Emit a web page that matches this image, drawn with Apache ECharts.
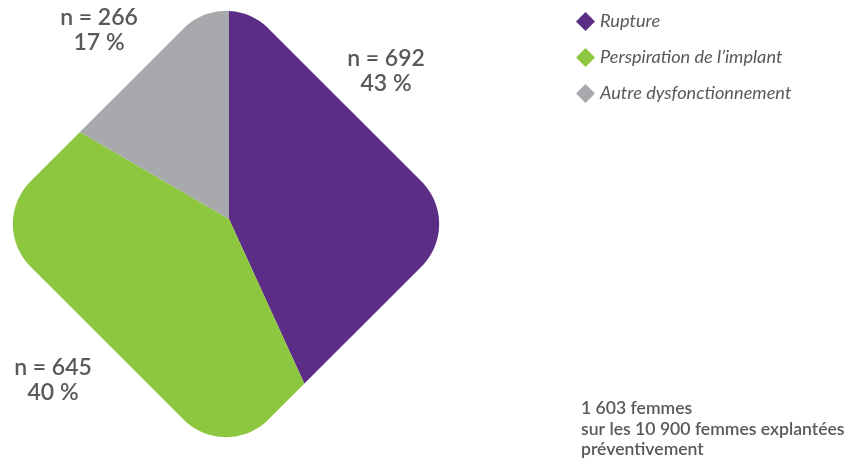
<!DOCTYPE html>
<html>
<head>
<meta charset="utf-8">
<script src="https://cdn.jsdelivr.net/npm/echarts@6/dist/echarts.min.js"></script>
<style>
  html, body { margin: 0; padding: 0; background: #fff; }
  #chart { width: 850px; height: 464px; }
</style>
</head>
<body>
<div id="chart"></div>
<script>
  // données
  const categories = ['Rupture', 'Perspiration de l’implant', 'Autre dysfonctionnement']
  const counts = [692, 645, 266]
  const colors = ['#5B2D87', '#8DC63F', '#A7A9AC']
  const noteLines = ['1 603 femmes', 'sur les 10 900 femmes explantées', 'préventivement']

  // positions des étiquettes (px)
  const labelPos = [[386, 71], [53, 380], [99, 30]]
  const textColor = '#58595B'
  const total = counts.reduce((a, b) => a + b, 0)

  // masque blanc autour d'un carré arrondi posé sur la pointe
  // (un seul anneau avec un pont pour laisser le trou)
  function diamondMask(cx, cy, d, r) {
    const off = d - r * Math.SQRT2
    const corners = [
      [cx - off, cy, 180, 225],
      [cx, cy + off, 225, 315],
      [cx + off, cy, 315, 405],
      [cx, cy - off, 45, 135],
      [cx - off, cy, 135, 180],
    ]
    const pts = [[0, cy], [0, 0], [540, 0], [540, 464], [0, 464], [0, cy]]
    corners.forEach(([ox, oy, a0, a1]) => {
      for (let a = a0; a <= a1; a += 3) {
        const t = a * Math.PI / 180
        pts.push([ox + r * Math.cos(t), oy - r * Math.sin(t)])
      }
    })
    pts.push([0, cy])
    return pts
  }

  const chart = echarts.init(document.getElementById('chart'))

  const labels = counts.map((c, i) => ({
    type: 'text',
    x: labelPos[i][0],
    y: labelPos[i][1],
    z: 10,
    silent: true,
    style: {
      text: `n = ${c}\n${Math.round(c / total * 100)} %`,
      fill: textColor,
      fontFamily: 'Lato',
      fontWeight: 600,
      fontSize: 23,
      lineHeight: 25,
      align: 'center',
      verticalAlign: 'middle',
    },
  }))

  chart.setOption({
    animation: false,
    color: colors,
    legend: {
      orient: 'vertical',
      left: 571,
      top: 7,
      icon: 'diamond',
      itemWidth: 19,
      itemHeight: 19,
      itemGap: 17,
      selectedMode: false,
      textStyle: {
        fontFamily: 'Lato',
        fontStyle: 'italic',
        fontSize: 18.2,
        color: textColor,
        padding: [0, 0, 0, 0],
      },
      data: categories,
    },
    title: {
      left: 576,
      top: 393,
      text: noteLines.join('\n'),
      textStyle: {
        fontFamily: 'Lato',
        fontSize: 17.6,
        fontWeight: 600,
        lineHeight: 20.7,
        color: textColor,
      },
    },
    graphic: [
      {
        type: 'polygon',
        z: 3,
        silent: true,
        shape: { points: diamondMask(226, 224, 238, 60) },
        style: { fill: '#fff' },
      },
      ...labels,
    ],
    series: [
      {
        type: 'pie',
        center: [229, 219],
        radius: [0, 240],
        startAngle: 90,
        clockwise: true,
        silent: true,
        label: { show: false },
        labelLine: { show: false },
        itemStyle: { borderWidth: 0 },
        data: categories.map((name, i) => ({ name, value: counts[i] })),
      },
    ],
  })
</script>
</body>
</html>
